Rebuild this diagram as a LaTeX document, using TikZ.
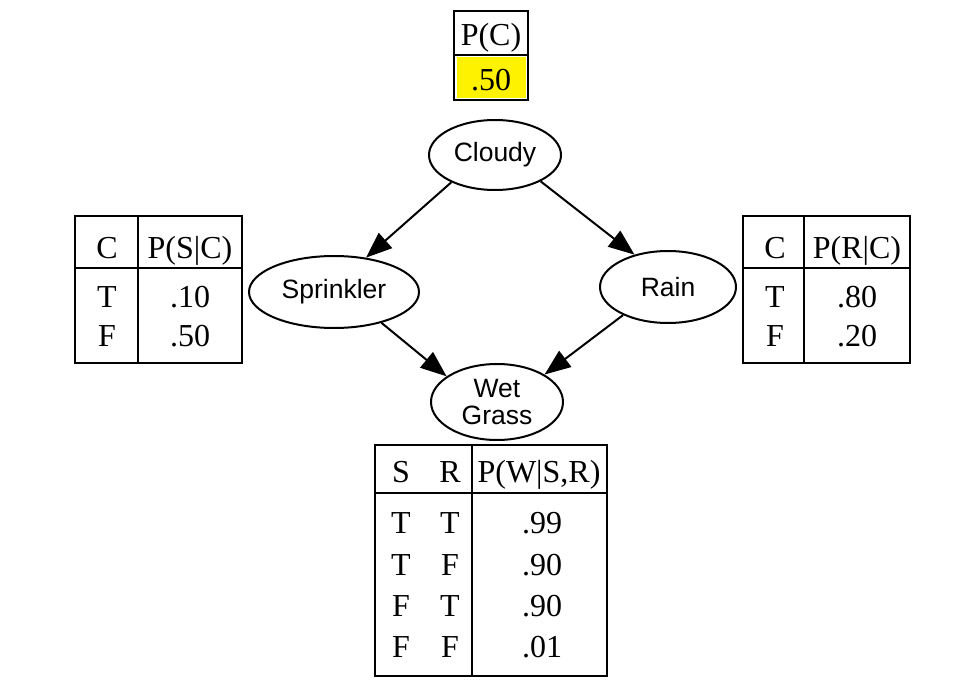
\documentclass[tikz,border=0pt]{standalone}
\usepackage{fontspec}
\setmainfont{Liberation Serif}
\setsansfont{Liberation Sans}
\usetikzlibrary{shapes.geometric,arrows.meta}
\newcommand{\Tab}{\fontsize{16}{19}\selectfont}
\newcommand{\Lbl}{\sffamily\fontsize{13.25}{13.25}\selectfont}

\begin{document}
\begin{tikzpicture}[x=0.5pt, y=-0.5pt, line width=1pt,
  var/.style={draw, ellipse, inner sep=0pt, font=\Lbl, align=center},
  cell/.style={inner sep=0pt, anchor=base, font=\Tab},
  edge/.style={-{Triangle[length=13pt,width=10pt]}}]

  \useasboundingbox (0,0) rectangle (974,684);

  %% P(C)
  \fill[yellow] (457,57) rectangle (526,98);
  \draw (454,11) rectangle (528,100);
  \draw (454,55) -- (528,55);
  \node[cell] (pc) at (491,46) {P(C)};
  \node[cell] (pcT) at (491,91) {.50};

  %% P(S|C)
  \draw (75,216) rectangle (242,363);
  \draw (138,216) -- (138,363);
  \draw (75,268) -- (242,268);
  \node[cell] (scC) at (107,258) {C};
  \node[cell] (sc) at (190,258) {P(S|C)};
  \node[cell] (scT) at (107,307) {T};
  \node[cell] (scTv) at (190,307) {.10};
  \node[cell] (scF) at (107,346) {F};
  \node[cell] (scFv) at (190,346) {.50};

  %% P(R|C)
  \draw (743,216) rectangle (910,363);
  \draw (804,216) -- (804,363);
  \draw (743,268) -- (910,268);
  \node[cell] (rcC) at (775,258) {C};
  \node[cell] (rc) at (857,258) {P(R|C)};
  \node[cell] (rcT) at (775,307) {T};
  \node[cell] (rcTv) at (857,307) {.80};
  \node[cell] (rcF) at (775,346) {F};
  \node[cell] (rcFv) at (857,346) {.20};

  %% P(W|S,R)
  \draw (375,445) rectangle (607,676);
  \draw (472,445) -- (472,676);
  \draw (375,493) -- (607,493);
  \node[cell] (wsS) at (401,482) {S};
  \node[cell] (wsR) at (450,482) {R};
  \node[cell] (ws) at (539,482) {P(W|S,R)};
  \node[cell] (ws1S) at (401,533) {T};
  \node[cell] (ws1R) at (450,533) {T};
  \node[cell] (ws1) at (542,533) {.99};
  \node[cell] (ws2S) at (401,575) {T};
  \node[cell] (ws2R) at (450,575) {F};
  \node[cell] (ws2) at (542,575) {.90};
  \node[cell] (ws3S) at (401,616) {F};
  \node[cell] (ws3R) at (450,616) {T};
  \node[cell] (ws3) at (542,616) {.90};
  \node[cell] (ws4S) at (401,657) {F};
  \node[cell] (ws4R) at (450,657) {F};
  \node[cell] (ws4) at (542,657) {.01};

  %% variables
  \node[var, minimum width=66pt, minimum height=35pt] (cloudy) at (495,155) {Cloudy};
  \node[var, minimum width=85pt, minimum height=36pt] (sprinkler) at (334,292) {Sprinkler};
  \node[var, minimum width=68pt, minimum height=36pt] (rain) at (668,287) {Rain};
  \node[var, minimum width=66pt, minimum height=38pt] (wet) at (497,402) {Wet\\Grass};

  \draw[edge] (cloudy.-148) -- (sprinkler.47); %% C->S
  \draw[edge] (cloudy.-30) -- (rain.136); %% C->R
  \draw[edge] (sprinkler.-33) -- (wet.153); %% S->W
  \draw[edge] (rain.-148) -- (wet.30); %% R->W

\end{tikzpicture}
\end{document}
